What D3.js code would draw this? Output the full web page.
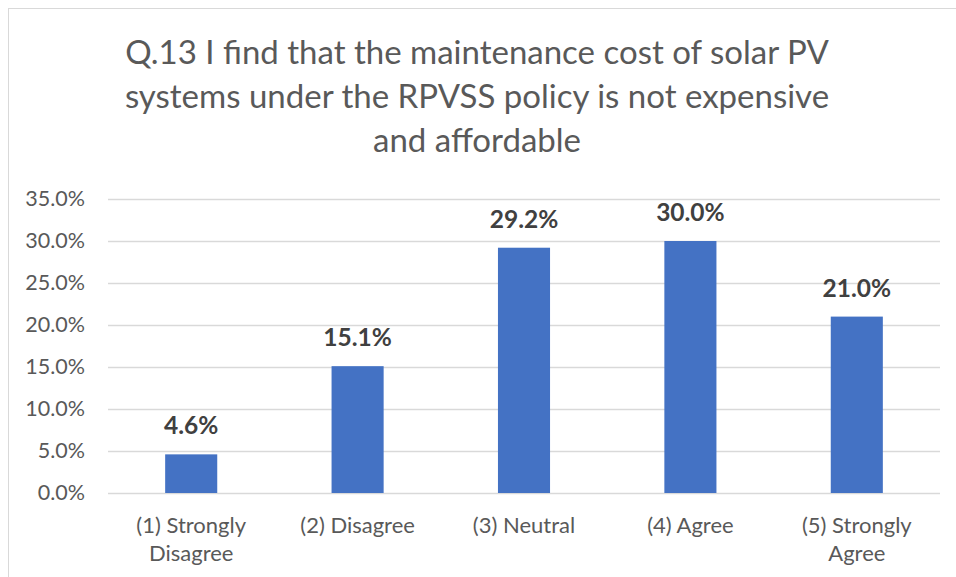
<!DOCTYPE html>
<html><head><meta charset="utf-8">
<script src="https://cdn.jsdelivr.net/npm/d3@7/dist/d3.min.js"></script>
<style>body{margin:0;background:#fff;}svg{display:block;font-family:Lato, "Open Sans", sans-serif;}</style>
</head><body>
<svg id="c" width="956" height="577"></svg>
<script>
const categories = [["(1) Strongly","Disagree"],["(2) Disagree"],["(3) Neutral"],["(4) Agree"],["(5) Strongly","Agree"]];
const values = [4.6, 15.1, 29.2, 30.0, 21.0];
const yTicks = [0,5,10,15,20,25,30,35];
const titleLines = ["Q.13 I find that the maintenance cost of solar PV","systems under the RPVSS policy is not expensive","and affordable"];

const svg = d3.select("#c");
svg.append("rect").attr("x",8.5).attr("y",8.5).attr("width",960).attr("height",600)
  .attr("fill","#fff").attr("stroke","#d9d9d9").attr("stroke-width",1);

const m = {left:108, right:940, top:199, bottom:493};
const x = d3.scaleBand().domain(d3.range(categories.length)).range([m.left,m.right]).paddingInner(0.687).paddingOuter(0.3435);
const y = d3.scaleLinear().domain([0,35]).range([m.bottom,m.top]);

// title
svg.append("text").attr("text-anchor","middle").attr("fill","#595959").attr("font-size",33)
  .selectAll("tspan").data(titleLines).join("tspan")
  .attr("x",477).attr("y",(d,i)=>64+i*44).text(d=>d);

// gridlines
const yAxis = d3.axisLeft(y).tickValues(yTicks).tickFormat(d=>d.toFixed(1)+"%").tickSize(-(m.right-m.left)).tickPadding(23);
const gy = svg.append("g").attr("transform",`translate(${m.left},0)`).call(yAxis);
gy.select(".domain").remove();
gy.selectAll(".tick line").attr("stroke","#d9d9d9").attr("stroke-width",1.3);
gy.selectAll(".tick text").attr("fill","#595959").attr("font-size",21.5).attr("font-family","Lato, sans-serif");

// bars
svg.append("g").selectAll("rect").data(values).join("rect")
  .attr("x",(d,i)=>x(i)).attr("width",x.bandwidth())
  .attr("y",d=>y(d)).attr("height",d=>y(0)-y(d)).attr("fill","#4472c4");

// data labels
svg.append("g").selectAll("text").data(values).join("text")
  .attr("x",(d,i)=>x(i)+x.bandwidth()/2).attr("y",d=>y(d)-20)
  .attr("text-anchor","middle").attr("font-weight","bold").attr("font-size",24.5).attr("fill","#404040")
  .text(d=>d.toFixed(1)+"%");

// x labels
const xl = svg.append("g").selectAll("text").data(categories).join("text")
  .attr("text-anchor","middle").attr("font-size",22).attr("fill","#595959");
xl.selectAll("tspan").data((d,i)=>d.map(t=>({t,i}))).join("tspan")
  .attr("x",d=>x(d.i)+x.bandwidth()/2).attr("y",(d,j)=>533+j*28).text(d=>d.t);
</script>
</body></html>
